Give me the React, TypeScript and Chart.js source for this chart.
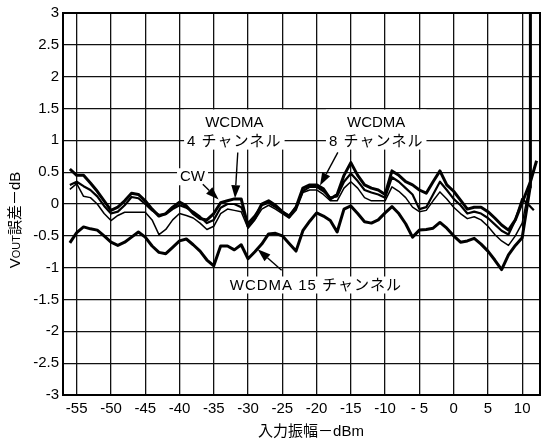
import React, { useEffect, useRef } from "react";
import { Chart, registerables } from "chart.js";

Chart.register(...registerables);

// ---------- data ----------
const inputDbm = [
  -56, -55, -54, -53, -52, -51, -50, -49, -48, -47, -46, -45, -44, -43, -42, -41,
  -40, -39, -38, -37, -36, -35, -34, -33, -32, -31, -30, -29, -28, -27, -26, -25,
  -24, -23, -22, -21, -20, -19, -18, -17, -16, -15, -14, -13, -12, -11, -10, -9,
  -8, -7, -6, -5, -4, -3, -2, -1, 0, 1, 2, 3, 4, 5, 6, 7, 8, 9, 10,
];

const wcdma4Err = [
  0.55, 0.45, 0.45, 0.33, 0.2, 0.05, -0.1, -0.05, 0.05, 0.17, 0.15, 0.05, -0.08, -0.19, -0.15, -0.05,
  0.03, -0.03, -0.15, -0.23, -0.25, -0.15, 0.02, 0.05, 0.08, 0.08, -0.35, -0.22, 0.0, 0.05, -0.02, -0.12,
  -0.2, -0.05, 0.25, 0.3, 0.3, 0.24, 0.08, 0.15, 0.45, 0.65, 0.45, 0.3, 0.25, 0.22, 0.15, 0.52,
  0.45, 0.35, 0.3, 0.22, 0.17, 0.35, 0.52, 0.3, 0.2, 0.06, -0.08, -0.05, -0.05, -0.12, -0.22, -0.33, -0.41, -0.25, 0.02,
];
const wcdma4TailDbm = [11.2, 12.1];
const wcdma4TailErr = [0.35, 0.68];

const cwErr = [
  0.3, 0.35, 0.28, 0.22, 0.12, -0.03, -0.15, -0.12, -0.02, 0.11, 0.09, 0.0, -0.1, -0.17, -0.16, -0.08,
  -0.02, -0.06, -0.12, -0.2, -0.3, -0.25, -0.06, 0.0, 0.0, -0.05, -0.3, -0.18, -0.02, 0.02, -0.05, -0.12,
  -0.18, -0.05, 0.2, 0.27, 0.27, 0.2, 0.1, 0.12, 0.35, 0.48, 0.36, 0.22, 0.18, 0.15, 0.1, 0.42,
  0.35, 0.25, 0.15, -0.08, -0.05, 0.15, 0.35, 0.22, 0.08, -0.02, -0.15, -0.12, -0.15, -0.22, -0.32, -0.42, -0.48, -0.25, 0.08,
];
const cwTailDbm = [11.0, 11.7];
const cwTailErr = [-0.02, -0.1];

const wcdma8Err = [
  0.23, 0.32, 0.12, 0.1, 0.0, -0.15, -0.26, -0.18, -0.13, -0.13, -0.13, -0.13, -0.25, -0.48, -0.4, -0.25,
  -0.15, -0.18, -0.22, -0.3, -0.4, -0.35, -0.15, -0.08, -0.1, -0.12, -0.38, -0.25, -0.08, -0.02, -0.08, -0.15,
  -0.22, -0.1, 0.18, 0.22, 0.22, 0.15, 0.05, 0.05, 0.25, 0.35, 0.25, 0.1, 0.05, 0.05, 0.05, 0.27,
  0.2, 0.1, -0.05, -0.12, -0.1, 0.05, 0.19, 0.08, -0.05, -0.15, -0.23, -0.2, -0.25, -0.35, -0.48, -0.58, -0.65, -0.5, -0.3,
];
const wcdma8TailDbm = [11.0, 11.5];
const wcdma8TailErr = [0.25, 0.45];

const wcdma15Err = [
  -0.61, -0.45, -0.36, -0.39, -0.41, -0.5, -0.6, -0.65, -0.6, -0.52, -0.44, -0.52, -0.66, -0.76, -0.78, -0.68,
  -0.58, -0.55, -0.64, -0.74, -0.88, -0.97, -0.66, -0.66, -0.72, -0.64, -0.86, -0.75, -0.63, -0.47, -0.46, -0.5,
  -0.62, -0.74, -0.42, -0.27, -0.14, -0.19, -0.26, -0.44, -0.08, -0.03, -0.15, -0.28, -0.3, -0.25, -0.14, -0.04,
  -0.15, -0.31, -0.52, -0.41, -0.4, -0.38, -0.29, -0.38, -0.5, -0.6, -0.58, -0.54, -0.63, -0.74, -0.88, -1.03, -0.8, -0.65, -0.53,
];
const wcdma15TailDbm = [11.15, 11.2];
const wcdma15TailErr = [0.26, 3.3];

const xTickValues = [-55, -50, -45, -40, -35, -30, -25, -20, -15, -10, -5, 0, 5, 10];
const xTickLabels = ["-55", "-50", "-45", "-40", "-35", "-30", "-25", "-20", "-15", "-10", "- 5", "0", "5", "10"];

const xTitle = "入力振幅－dBm";
const yTitleParts = ["V", "OUT", "誤差－dB"];

// annotation texts (data coordinates)
const labelBlocks = [
  { lines: ["WCDMA", "4 チャンネル"], x: -32, ys: [1.28, 0.98] },
  { lines: ["WCDMA", "8 チャンネル"], x: -11.3, ys: [1.28, 0.98] },
  { lines: ["CW"], x: -38.1, ys: [0.42] },
  { lines: ["WCDMA 15 チャンネル"], x: -20.1, ys: [-1.28] },
];
const arrows = [
  { from: [-36.6, 0.31], to: [-34.3, 0.07] },
  { from: [-31.5, 0.81], to: [-31.9, 0.09] },
  { from: [-16.9, 0.81], to: [-19.5, 0.29] },
  { from: [-25.1, -1.04], to: [-28.6, -0.71] },
];

const FONT = '"Liberation Sans", "Noto Sans CJK JP", Arial, sans-serif';

function toPoints(xs: number[], ys: (number | null)[]) {
  return xs.map((x, i) => ({ x, y: ys[i] }));
}

const overlayPlugin = {
  id: "overlay",
  afterDatasetsDraw(chart: any) {
    const { ctx, chartArea } = chart;
    const xs = chart.scales.x;
    const ys = chart.scales.y;
    ctx.save();

    // frame
    ctx.strokeStyle = "#000";
    ctx.lineWidth = 2;
    ctx.strokeRect(chartArea.left, chartArea.top, chartArea.right - chartArea.left, chartArea.bottom - chartArea.top);

    // label blocks
    ctx.font = `15px ${FONT}`;
    ctx.textAlign = "center";
    ctx.textBaseline = "middle";
    for (const b of labelBlocks) {
      const cx = xs.getPixelForValue(b.x);
      let w = 0;
      for (const l of b.lines) {
        (ctx as any).letterSpacing = /[\u30A0-\u30FF]/.test(l) ? "1px" : "0px";
        w = Math.max(w, ctx.measureText(l).width);
      }
      const top = ys.getPixelForValue(b.ys[0]) - (b.lines.length > 1 ? 13 : 9);
      const bottom = ys.getPixelForValue(b.ys[b.ys.length - 1]) + 8;
      ctx.fillStyle = "#fff";
      ctx.fillRect(cx - w / 2 - 3, top, w + 6, bottom - top);
      ctx.fillStyle = "#000";
      b.lines.forEach((l, i) => {
        (ctx as any).letterSpacing = /[\u30A0-\u30FF]/.test(l) ? "1px" : "0px";
        ctx.fillText(l, cx, ys.getPixelForValue(b.ys[i]));
      });
    }
    (ctx as any).letterSpacing = "0px";

    // arrows
    ctx.strokeStyle = "#000";
    ctx.fillStyle = "#000";
    ctx.lineWidth = 1.4;
    for (const a of arrows) {
      const x1 = xs.getPixelForValue(a.from[0]);
      const y1 = ys.getPixelForValue(a.from[1]);
      const x2 = xs.getPixelForValue(a.to[0]);
      const y2 = ys.getPixelForValue(a.to[1]);
      const ang = Math.atan2(y2 - y1, x2 - x1);
      const L = 13;
      const H = 4.5;
      const bx = x2 - L * Math.cos(ang);
      const by = y2 - L * Math.sin(ang);
      ctx.beginPath();
      ctx.moveTo(x1, y1);
      ctx.lineTo(bx, by);
      ctx.stroke();
      ctx.beginPath();
      ctx.moveTo(x2, y2);
      ctx.lineTo(bx + H * Math.sin(ang), by - H * Math.cos(ang));
      ctx.lineTo(bx - H * Math.sin(ang), by + H * Math.cos(ang));
      ctx.closePath();
      ctx.fill();
    }

    // x title
    ctx.font = `15px ${FONT}`;
    ctx.textAlign = "center";
    ctx.textBaseline = "middle";
    ctx.fillText(xTitle, 311, 432);

    // y title
    ctx.translate(14, 220);
    ctx.rotate(-Math.PI / 2);
    ctx.textAlign = "left";
    ctx.textBaseline = "alphabetic";
    const sizes = [15, 11, 15];
    let total = 0;
    const widths = yTitleParts.map((p, i) => {
      ctx.font = `${sizes[i]}px ${FONT}`;
      const w = ctx.measureText(p).width;
      total += w;
      return w;
    });
    let px = -total / 2;
    yTitleParts.forEach((p, i) => {
      ctx.font = `${sizes[i]}px ${FONT}`;
      ctx.fillText(p, px, 5.5);
      px += widths[i];
    });

    ctx.restore();
  },
};

export default function App() {
  const ref = useRef<HTMLCanvasElement | null>(null);

  useEffect(() => {
    if (!ref.current) return;
    const ds = (data: any[], width: number) => ({
      data,
      borderColor: "#000",
      borderWidth: width,
      pointRadius: 0,
      tension: 0,
      fill: false,
      clip: 0,
      borderJoinStyle: "round" as const,
    });
    const chart = new Chart(ref.current, {
      type: "line",
      data: {
        datasets: [
          ds(toPoints([...inputDbm, ...wcdma8TailDbm], [...wcdma8Err, ...wcdma8TailErr]), 1.5),
          ds(toPoints([...inputDbm, ...cwTailDbm], [...cwErr, ...cwTailErr]), 2.2),
          ds(toPoints([...inputDbm, ...wcdma4TailDbm], [...wcdma4Err, ...wcdma4TailErr]), 3),
          ds(toPoints([...inputDbm, ...wcdma15TailDbm], [...wcdma15Err, ...wcdma15TailErr]), 3),
        ],
      },
      options: {
        animation: false,
        responsive: false,
        devicePixelRatio: 1,
        layout: { padding: { top: 12, right: 2, left: 0, bottom: 0 } },
        plugins: { legend: { display: false }, tooltip: { enabled: false } },
        scales: {
          x: {
            type: "linear",
            min: -57,
            max: 12.6,
            afterBuildTicks: (s: any) => {
              s.ticks = xTickValues.map((v) => ({ value: v }));
            },
            afterFit: (s: any) => {
              s.height = 49;
            },
            grid: { color: "#111", lineWidth: 1.3, drawTicks: false },
            border: { display: false },
            ticks: {
              color: "#000",
              font: { family: FONT, size: 15 },
              padding: 5,
              maxRotation: 0,
              autoSkip: false,
              callback: (v: any) => {
                const i = xTickValues.indexOf(Number(v));
                return i >= 0 ? xTickLabels[i] : "";
              },
            },
          },
          y: {
            type: "linear",
            min: -3,
            max: 3,
            afterFit: (s: any) => {
              s.width = 63;
            },
            grid: { color: "#111", lineWidth: 1.3, drawTicks: false },
            border: { display: false },
            ticks: {
              stepSize: 0.5,
              color: "#000",
              font: { family: FONT, size: 15 },
              padding: 4,
              callback: (v: any) => String(Math.round(Number(v) * 10) / 10),
            },
          },
        },
      },
      plugins: [overlayPlugin],
    });
    return () => chart.destroy();
  }, []);

  return (
    <div style={{ position: "absolute", left: 0, top: 0, width: 542, height: 444, background: "#fff" }}>
      <canvas ref={ref} width={542} height={444} />
    </div>
  );
}
